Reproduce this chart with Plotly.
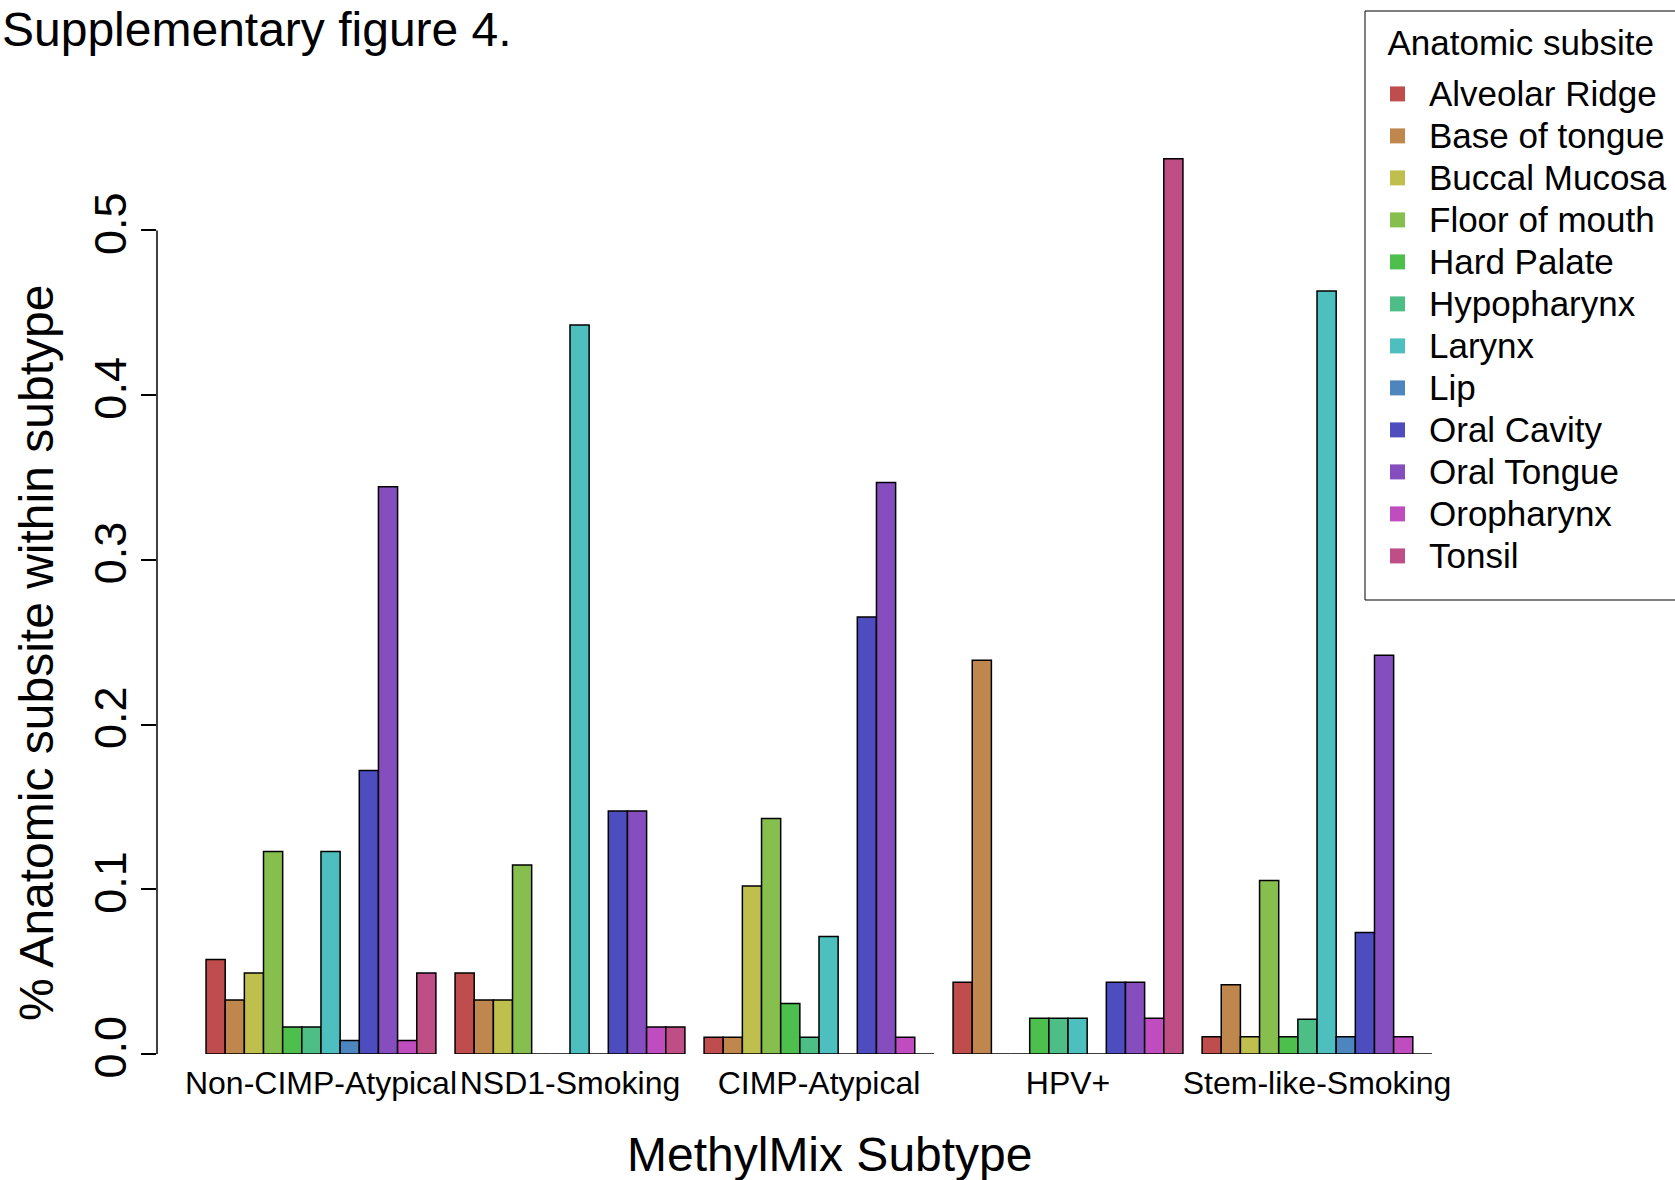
import plotly.graph_objects as go

# ---- data ----
subtypes = ["Non-CIMP-Atypical", "NSD1-Smoking", "CIMP-Atypical", "HPV+", "Stem-like-Smoking"]
subsites = ["Alveolar Ridge", "Base of tongue", "Buccal Mucosa", "Floor of mouth",
            "Hard Palate", "Hypopharynx", "Larynx", "Lip", "Oral Cavity",
            "Oral Tongue", "Oropharynx", "Tonsil"]

alveolar_ridge = [0.0574, 0.0492, 0.0102, 0.0435, 0.0105]
base_of_tongue = [0.0328, 0.0328, 0.0102, 0.2391, 0.0421]
buccal_mucosa  = [0.0492, 0.0328, 0.1020, 0.0,    0.0105]
floor_of_mouth = [0.1230, 0.1148, 0.1429, 0.0,    0.1053]
hard_palate    = [0.0164, 0.0,    0.0306, 0.0217, 0.0105]
hypopharynx    = [0.0164, 0.0,    0.0102, 0.0217, 0.0211]
larynx         = [0.1230, 0.4426, 0.0714, 0.0217, 0.4632]
lip            = [0.0082, 0.0,    0.0,    0.0,    0.0105]
oral_cavity    = [0.1721, 0.1475, 0.2653, 0.0435, 0.0737]
oral_tongue    = [0.3443, 0.1475, 0.3469, 0.0435, 0.2421]
oropharynx     = [0.0082, 0.0164, 0.0102, 0.0217, 0.0105]
tonsil         = [0.0492, 0.0164, 0.0,    0.5435, 0.0]

series = [alveolar_ridge, base_of_tongue, buccal_mucosa, floor_of_mouth, hard_palate,
          hypopharynx, larynx, lip, oral_cavity, oral_tongue, oropharynx, tonsil]

y_ticks = [0.0, 0.1, 0.2, 0.3, 0.4, 0.5]

# ---- style ----
colors = ["#BF4D4D", "#BF864D", "#BFBF4D", "#86BF4D", "#4DBF4D", "#4DBF86",
          "#4DBFBF", "#4D86BF", "#4D4DBF", "#864DBF", "#BF4DBF", "#BF4D86"]
FONT = "Liberation Sans, Arial, Helvetica, sans-serif"

W, H = 1675, 1180
L, R, T, B = 157, 194, 132, 126
plot_w = W - L - R
plot_h = H - T - B
px_per_unit = 1647.2          # vertical pixels per 1.0 on the y axis
y_top = plot_h / px_per_unit  # range top so that 0.5 sits at the reference height
bottom_px = H - B


def py(pixel_y):
    """figure pixel row -> paper y"""
    return (bottom_px - pixel_y) / plot_h


def px(pixel_x):
    """figure pixel column -> paper x"""
    return (pixel_x - L) / plot_w


fig = go.Figure()
for name, vals, col in zip(subsites, series, colors):
    fig.add_trace(go.Bar(
        x=subtypes, y=vals, name=name, showlegend=False,
        marker=dict(color=col, line=dict(color="black", width=1.5)),
    ))
# legend entries (plain squares, no border, as in the reference)
for name, col in zip(subsites, colors):
    fig.add_trace(go.Scatter(
        x=[None], y=[None], mode="markers",
        name='<span style="font-size:35px">%s</span>' % name,
        marker=dict(symbol="square", size=15, color=col, line=dict(width=0)),
    ))

fig.update_layout(
    width=W, height=H,
    margin=dict(l=L, r=R, t=T, b=B, autoexpand=False),
    paper_bgcolor="white", plot_bgcolor="white",
    font=dict(family=FONT, color="black"),
    barmode="group", bargap=1 / 13, bargroupgap=0,
    showlegend=True,
    legend=dict(
        x=px(1366), y=py(12), xanchor="left", yanchor="top",
        borderwidth=0, bgcolor="rgba(0,0,0,0)",
        font=dict(size=30, family=FONT),
        itemwidth=53,
        maxheight=1100,
        title=dict(text='<span style="font-size:35px;baseline-shift:13px">'
                        '\u00a0\u00a0Anatomic subsite</span>',
                   font=dict(size=43, family=FONT)),
        tracegroupgap=0,
    ),
    xaxis=dict(
        type="category", range=[-0.6585, 4.6585],
        showline=False, showgrid=False, zeroline=False, ticks="",
        tickfont=dict(size=32), ticklabelstandoff=7,
    ),
    yaxis=dict(
        range=[0, y_top], tickvals=y_ticks, tickformat=".1f",
        showline=False,
        ticks="outside", ticklen=15, tickwidth=1.5, tickcolor="black",
        showgrid=False, zeroline=False, tickangle=-90,
        tickfont=dict(size=45), ticklabelstandoff=-3,
    ),
    shapes=[
        # y axis line spanning the tick range only (as in base-R axes)
        dict(type="line", xref="paper", x0=0, x1=0, yref="y",
             y0=min(y_ticks), y1=max(y_ticks),
             line=dict(color="black", width=1.5)),
        # legend frame, running off the right edge as in the reference
        dict(type="rect", xref="paper", yref="paper", layer="above",
             x0=px(1365), x1=px(1700), y0=py(600), y1=py(11),
             line=dict(color="black", width=1), fillcolor="rgba(0,0,0,0)"),
    ],
    annotations=[
        dict(text="Supplementary figure 4.", xref="paper", yref="paper",
             x=px(0), y=py(30), xanchor="left", yanchor="middle",
             showarrow=False, font=dict(size=48, family=FONT)),
        dict(text="% Anatomic subsite within subtype", xref="paper", yref="paper",
             x=px(36), y=py(653), xanchor="center", yanchor="middle", textangle=-90,
             showarrow=False, font=dict(size=48, family=FONT)),
        dict(text="MethylMix Subtype", xref="paper", yref="paper",
             x=px(830), y=py(1154), xanchor="center", yanchor="middle",
             showarrow=False, font=dict(size=48, family=FONT)),
    ],
)

fig.write_html("out.html", config={"displayModeBar": False},
               post_script="document.body.style.margin='0px';")
